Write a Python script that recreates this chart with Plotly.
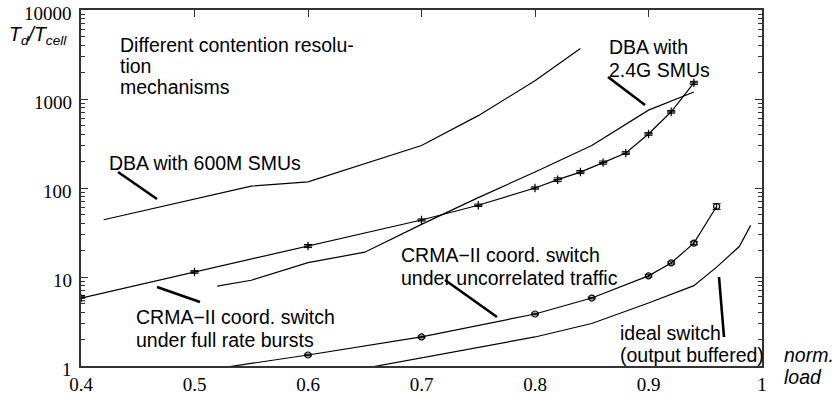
import math
import plotly.graph_objects as go

# ---------------- data ----------------
dba600_x = [0.42, 0.5, 0.55, 0.6, 0.7, 0.75, 0.8, 0.84]
dba600_y = [44, 75, 105, 117, 300, 650, 1600, 3700]

dba24_x = [0.52, 0.55, 0.6, 0.65, 0.7, 0.75, 0.8, 0.85, 0.9, 0.94]
dba24_y = [7.9, 9.2, 14.5, 19, 39, 78, 151, 300, 750, 1200]

burst_x = [0.4, 0.5, 0.6, 0.7, 0.75, 0.8, 0.82, 0.84, 0.86, 0.88, 0.9, 0.92, 0.94]
burst_y = [5.8, 11.4, 22.3, 43.7, 64, 100, 124, 151, 193, 247, 405, 718, 1520]
burst_err = [0.4, 0.4, 0.9, 1.2, 2, 3, 6, 6, 8, 9, 14, 25, 60]

uncorr_x = [0.5, 0.6, 0.7, 0.8, 0.85, 0.9, 0.92, 0.94, 0.96]
uncorr_y = [0.86, 1.33, 2.12, 3.84, 5.8, 10.3, 14.4, 24, 62]
uncorr_err = [0.02, 0.03, 0.05, 0.08, 0.12, 0.3, 0.4, 0.8, 4.5]

ideal_x = [0.6, 0.7, 0.8, 0.85, 0.9, 0.94, 0.96, 0.98, 0.99]
ideal_y = [0.72, 1.23, 2.12, 3.0, 5.1, 8.0, 12.9, 22, 38]

x_ticks = [0.4, 0.5, 0.6, 0.7, 0.8, 0.9, 1.0]
x_ticktext = ["0.4", "0.5", "0.6", "0.7", "0.8", "0.9", "1"]
y_ticks = [1, 10, 100, 1000, 10000]
y_ticktext = ["1", "10", "100", "1000", "10000"]

# ---------------- layout helpers (pixel -> paper) ----------------
W, H = 834, 396
X0, X1, Y0, Y1 = 81, 762, 10, 366


def px(x):
    return (x - X0) / (X1 - X0)


def py(y):
    return (Y1 - y) / (Y1 - Y0)


SANS = "Liberation Sans, Arial, Helvetica, sans-serif"
SERIF = "Liberation Serif, Times New Roman, serif"
LW = 1.2

fig = go.Figure()

fig.add_trace(go.Scatter(x=dba600_x, y=dba600_y, mode="lines",
                         line=dict(color="black", width=LW), showlegend=False))
fig.add_trace(go.Scatter(x=dba24_x, y=dba24_y, mode="lines",
                         line=dict(color="black", width=LW), showlegend=False))
fig.add_trace(go.Scatter(x=burst_x, y=burst_y, mode="lines+markers",
                         line=dict(color="black", width=LW),
                         marker=dict(symbol="cross-thin", size=6, color="black",
                                     line=dict(color="black", width=1.2)),
                         error_y=dict(type="data", array=burst_err, visible=True,
                                      color="black", thickness=1.0, width=4),
                         showlegend=False))
fig.add_trace(go.Scatter(x=uncorr_x, y=uncorr_y, mode="lines+markers",
                         line=dict(color="black", width=LW),
                         marker=dict(symbol="circle-open", size=6, color="black",
                                     line=dict(color="black", width=1.2)),
                         error_y=dict(type="data", array=uncorr_err, visible=True,
                                      color="black", thickness=1.0, width=4),
                         showlegend=False))
fig.add_trace(go.Scatter(x=ideal_x, y=ideal_y, mode="lines",
                         line=dict(color="black", width=LW), showlegend=False))
# empty trace to activate the top tick axis
fig.add_trace(go.Scatter(x=[None], y=[None], xaxis="x2", showlegend=False,
                         hoverinfo="skip"))

texts = [
    ("Different contention resolu-", 118, 45, False),
    ("tion", 118, 66, False),
    ("mechanisms", 118, 87, False),
    ("DBA with 600M SMUs", 107, 163, False),
    ("DBA with", 607, 47, False),
    ("2.4G SMUs", 607, 70, False),
    ("CRMA\u2212II coord. switch", 134, 317, False),
    ("under full rate bursts", 134, 340, False),
    ("CRMA\u2212II coord. switch", 399, 255, False),
    ("under uncorrelated traffic", 399, 278, False),
    ("ideal switch", 618, 333, False),
    ("(output buffered)", 618, 355, False),
    ("norm.", 782, 355, True),
    ("load", 782, 377, True),
    ("T<sub>d</sub>/T<sub>cell</sub>", 7, 35, True),
]
annotations = []
for t, x, y, it in texts:
    annotations.append(dict(
        text=("<i>%s</i>" % t) if it else t,
        x=px(x), y=py(y), xref="paper", yref="paper",
        xanchor="left", yanchor="middle", showarrow=False,
        font=dict(family=SANS, size=19.5, color="black")))

# y tick labels (drawn slightly below their ticks, as in the reference)
for v, t in zip(y_ticks, y_ticktext):
    annotations.append(dict(
        text=t, x=0, y=math.log10(v), xref="paper", yref="y",
        xanchor="right", yanchor="middle", xshift=-7, yshift=-3,
        showarrow=False, font=dict(family=SERIF, size=19, color="black")))

pointers = [
    (118, 172, 157, 199),
    (608, 77, 645, 105),
    (157, 287, 200, 302),
    (445, 280, 497, 317),
    (719, 277, 724, 337),
]
shapes = []
for xa, ya, xb, yb in pointers:
    shapes.append(dict(type="line", xref="paper", yref="paper",
                       x0=px(xa), y0=py(ya), x1=px(xb), y1=py(yb),
                       line=dict(color="black", width=2.6)))

fig.update_layout(
    width=W, height=H,
    margin=dict(l=X0, r=W - X1, t=Y0, b=H - Y1, autoexpand=False),
    paper_bgcolor="white", plot_bgcolor="white",
    annotations=annotations, shapes=shapes,
    xaxis=dict(range=[0.4, 1.0], tickvals=x_ticks, ticktext=x_ticktext,
               ticks="", showgrid=False, zeroline=False, automargin=False,
               showline=True, linecolor="#333", linewidth=1.5, mirror=True,
               ticklabeloverflow="allow",
               tickfont=dict(family=SERIF, size=19, color="black")),
    xaxis2=dict(range=[0.4, 1.0], overlaying="x", side="top",
                tickvals=x_ticks[1:-1], ticks="inside", ticklen=7,
                tickcolor="#333", tickwidth=1.2, automargin=False,
                showticklabels=False, showgrid=False, zeroline=False),
    yaxis=dict(type="log", range=[0, 4], tickvals=y_ticks,
               showticklabels=False,
               ticks="inside", ticklen=7, tickwidth=1.2, tickcolor="#333",
               minor=dict(ticks="inside", ticklen=4, tickcolor="#333",
                          dtick="D1", showgrid=False),
               showgrid=False, zeroline=False, automargin=False,
               showline=True, linecolor="#333", linewidth=1.5, mirror="ticks"),
)

fig.write_html("out.html",
               config={"displayModeBar": False},
               post_script="document.body.style.margin='0';"
                           "document.body.style.padding='0';")
